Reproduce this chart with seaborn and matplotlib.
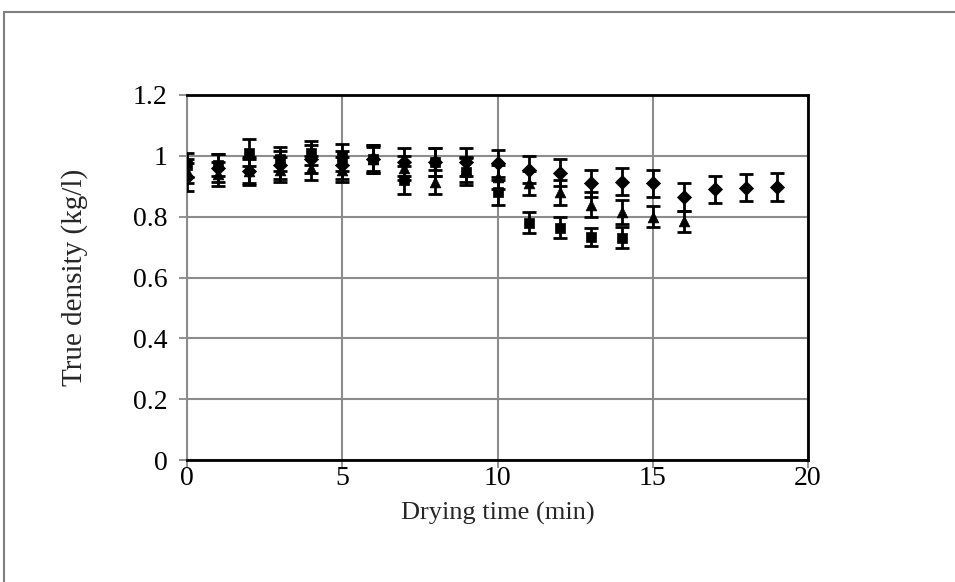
import matplotlib
matplotlib.use("Agg")
import matplotlib.pyplot as plt
import seaborn as sns
import pandas as pd
from matplotlib.patches import Rectangle

# Data
x_diamond = list(range(0, 20))
y_diamond = [0.93, 0.96, 0.95, 0.97, 0.99, 0.97, 0.99, 0.98, 0.98, 0.98,
             0.975, 0.955, 0.945, 0.91, 0.915, 0.91, 0.865, 0.89, 0.895, 0.898]
e_diamond = [0.045, 0.045, 0.045, 0.045, 0.045, 0.045, 0.045, 0.045, 0.045, 0.045,
             0.045, 0.045, 0.045, 0.045, 0.045, 0.045, 0.045, 0.045, 0.045, 0.045]

x_triangle = list(range(0, 17))
y_triangle = [0.95, 0.94, 0.95, 0.955, 0.96, 0.955, 0.99, 0.96, 0.915, 0.955,
              0.93, 0.91, 0.88, 0.84, 0.815, 0.80, 0.785]
e_triangle = [0.04, 0.04, 0.04, 0.04, 0.04, 0.04, 0.04, 0.04, 0.04, 0.04,
              0.04, 0.04, 0.04, 0.04, 0.04, 0.035, 0.035]

x_square = list(range(0, 15))
y_square = [0.97, 0.97, 1.01, 0.99, 1.01, 0.995, 0.99, 0.92, 0.98, 0.948,
            0.88, 0.78, 0.764, 0.734, 0.731]
e_square = [0.04, 0.035, 0.045, 0.04, 0.04, 0.045, 0.045, 0.045, 0.045, 0.045,
            0.04, 0.035, 0.035, 0.03, 0.035]

x_ticks = [0, 5, 10, 15, 20]
y_ticks = [0, 0.2, 0.4, 0.6, 0.8, 1.0, 1.2]
y_tick_labels = ["0", "0.2", "0.4", "0.6", "0.8", "1", "1.2"]

sns.set_theme(style="white")
plt.rcParams['font.family'] = ['Liberation Serif', 'DejaVu Serif']

fig = plt.figure(figsize=(9.55, 5.82), dpi=100)
ax = fig.add_axes([187/955, 1-460/582, (808-187)/955, (460-95)/582])

# figure frame
fig.patches.append(Rectangle((4/955, -0.05), 1.0, 1.05-12/582, transform=fig.transFigure,
                             fill=False, edgecolor='#808080', linewidth=1.5))

series = [
    (x_diamond, y_diamond, e_diamond, 'D', 52),
    (x_triangle, y_triangle, e_triangle, '^', 60),
    (x_square, y_square, e_square, 's', 42),
]
for xs, ys, es, m, s in series:
    ax.errorbar(xs, ys, yerr=es, fmt='none', ecolor='black', elinewidth=2,
                capsize=5, capthick=2, zorder=3)
    df = pd.DataFrame({'x': xs, 'y': ys})
    sns.scatterplot(data=df, x='x', y='y', marker=m, s=s, color='black',
                    edgecolor='black', linewidth=0.5, ax=ax, zorder=4)

ax.set_xlim(0, 20)
ax.set_ylim(0, 1.2)
ax.set_xticks(x_ticks)
ax.set_xticklabels([str(t) for t in x_ticks])
ax.set_yticks(y_ticks)
ax.set_yticklabels(y_tick_labels)

ax.grid(True, color='#8c8c8c', linewidth=1.5)
ax.set_axisbelow(True)

for side in ['top', 'right', 'bottom', 'left']:
    ax.spines[side].set_visible(True)
    ax.spines[side].set_color('black')
    ax.spines[side].set_linewidth(2)
ax.spines['left'].set_color('#8c8c8c')
ax.spines['left'].set_linewidth(1.5)

ax.tick_params(axis='both', which='both', direction='out', length=6, width=1.2,
               color='#808080', labelsize=20, labelcolor='black',
               bottom=True, left=True)
ax.tick_params(axis='x', pad=-2)
ax.tick_params(axis='y', pad=8)

ax.set_xlabel("Drying time (min)", fontsize=19, labelpad=8)
ax.set_ylabel("True density (kg/l)", fontsize=21, labelpad=32)

fig.savefig("out.png", dpi=100)
